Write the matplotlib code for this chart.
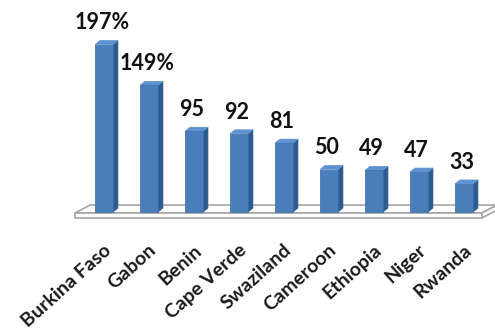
import matplotlib
matplotlib.use("Agg")
import matplotlib.pyplot as plt
from matplotlib.patches import Polygon, Rectangle

countries = ["Burkina Faso", "Gabon", "Benin", "Cape Verde", "Swaziland",
             "Cameroon", "Ethiopia", "Niger", "Rwanda"]
values = [197, 149, 95, 92, 81, 50, 49, 47, 33]
value_labels = ["197%", "149%", "95", "92", "81", "50", "49", "47", "33"]

fig = plt.figure(figsize=(4.95, 3.3), dpi=100)
ax = fig.add_axes([0, 0, 1, 1])
ax.set_xlim(-2.311, 8.689)
ax.set_ylim(-138.8, 249.4)
ax.axis("off")

front_c = "#4a7ebb"
side_c = "#2d5b8e"
top_c = "#5f92d2"
edge_c = "#3a6aa3"

w = 0.4       # bar front width (data units)
dx = 0.11     # depth offset x
dy = 4.7      # depth offset y

# floor
fx0, fx1 = -0.644, 8.40
fback = 0.333
fy_front, fy_back, fy_bottom = -1.2, 8.2, -7.0
floor_top = Polygon([(fx0, fy_front), (fx1, fy_front), (fx1 + fback, fy_back),
                     (fx0 + fback, fy_back)], closed=True, facecolor="white",
                    edgecolor="#a6a6a6", lw=1.2, zorder=1)
ax.add_patch(floor_top)
floor_front = Rectangle((fx0, fy_bottom), fx1 - fx0, fy_front - fy_bottom,
                        facecolor="white", edgecolor="#a6a6a6", lw=1.2, zorder=1)
ax.add_patch(floor_front)
floor_side = Polygon([(fx1, fy_bottom), (fx1, fy_front), (fx1 + fback, fy_back),
                      (fx1 + fback, fy_back - (fy_front - fy_bottom))], closed=True,
                     facecolor="white", edgecolor="#a6a6a6", lw=1.2, zorder=1)
ax.add_patch(floor_side)

for i, v in enumerate(values):
    x0 = i - w / 2
    x1 = i + w / 2
    side = Polygon([(x1, 0), (x1 + dx, dy), (x1 + dx, v + dy), (x1, v)],
                   closed=True, facecolor=side_c, edgecolor=side_c, lw=0.5, zorder=3)
    top = Polygon([(x0, v), (x1, v), (x1 + dx, v + dy), (x0 + dx, v + dy)],
                  closed=True, facecolor=top_c, edgecolor=top_c, lw=0.5, zorder=3)
    ax.add_patch(side)
    ax.add_patch(top)
    ax.bar(i, v, width=w, color=front_c, edgecolor=edge_c, lw=0.5, zorder=4)
    ax.annotate(value_labels[i], xy=(i - 0.05, v), xytext=(0, 11),
                textcoords="offset points", ha="center", va="baseline",
                fontsize=15.5, family="Lato", fontweight="bold",
                color="#111111", zorder=5)

for i, name in enumerate(countries):
    ax.text(i - 0.02, -34.5, name, rotation=42, rotation_mode="anchor",
            ha="right", va="top", fontsize=14, fontweight="bold",
            family="Lato", color="#1a1a1a")

fig.savefig("out.png", dpi=100)
